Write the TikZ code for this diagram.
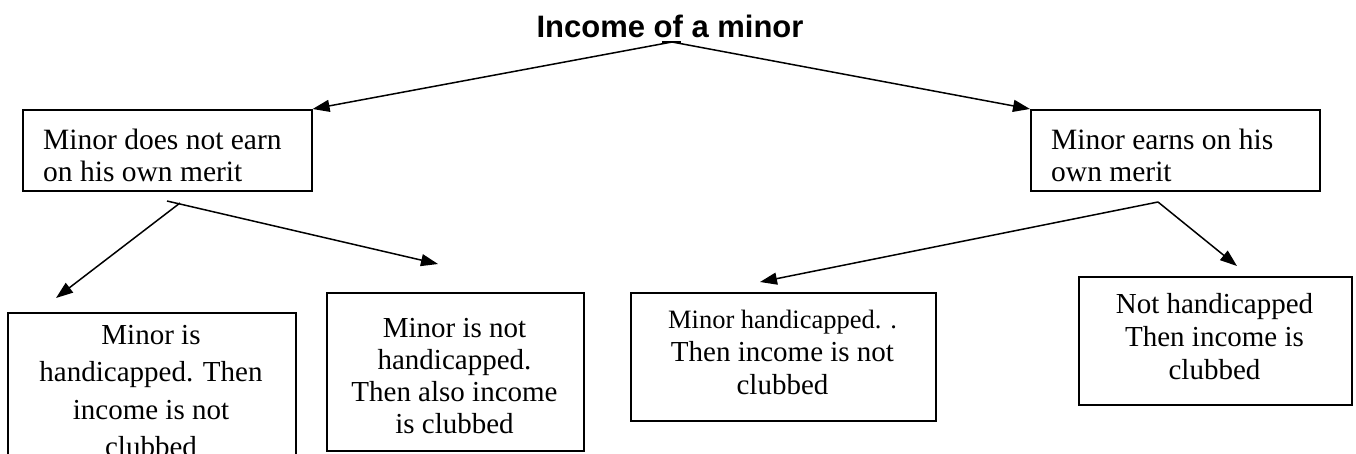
\documentclass[tikz,border=0pt]{standalone}
\usepackage{fontspec}
\usetikzlibrary{arrows.meta}
\newfontfamily\titlefont{Liberation Sans}
\newfontfamily\pal{Liberation Serif}
\tikzset{
  box/.style={draw, line width=1.6pt, inner sep=0pt, anchor=north west},
  txt/.style={inner sep=0pt, font={\pal\fontsize{29}{33}\selectfont}},
  arr/.style={line width=1.5pt, -{Triangle[length=17pt,width=12pt]}},
  ln/.style={line width=1.5pt}
}
\newcommand\fl{\rule{0pt}{22pt}}
\begin{document}
\begin{tikzpicture}[x=1pt,y=-1pt]
\clip (0,0) rectangle (1356,453);
\fill[white] (0,0) rectangle (1356,453);
% title
\node[anchor=base, inner sep=0pt, font={\titlefont\bfseries\fontsize{31}{36}\selectfont}] (title) at (670,37) {Income of a minor};
% boxes
\node[box, minimum width=289pt, minimum height=81pt] (b1) at (22,109) {};
\node[box, minimum width=289pt, minimum height=81pt] (b2) at (1030,109) {};
\node[box, minimum width=288pt, minimum height=170pt] (b3) at (7,312) {};
\node[box, minimum width=257pt, minimum height=158pt] (b4) at (326,292) {};
\node[box, minimum width=305pt, minimum height=128pt] (b5) at (630,292) {};
\node[box, minimum width=273pt, minimum height=128pt] (b6) at (1078,276) {};
% texts
\node[txt, anchor=north west, align=left, font={\pal\fontsize{29.5}{32}\selectfont}] (t1) at (43,127) {\fl Minor does not earn\\on his own merit};
\node[txt, anchor=north west, align=left, font={\pal\fontsize{29.5}{32}\selectfont}] (t2) at (1051,127) {\fl Minor earns on his\\own merit};
\node[txt, anchor=north, align=center, font={\pal\fontsize{29}{37.5}\selectfont}] (t3) at (151,322) {\fl Minor is\\handicapped. Then\\income is not\\clubbed};
\node[txt, anchor=north, align=center, font={\pal\fontsize{29}{32}\selectfont}] (t4) at (454.5,315) {\fl Minor is not\\handicapped.\\Then also income\\is clubbed};
\node[txt, anchor=north, align=center] (t5) at (782.5,306) {\fl{\fontsize{26.5}{32}\selectfont Minor handicapped. .}\\Then income is not\\clubbed};
\node[txt, anchor=north, align=center] (t6) at (1214.5,291) {\fl Not handicapped\\Then income is\\clubbed};
% connector points
\coordinate (apex) at (672,42);
\coordinate (apexl) at (662,42);
\coordinate (apexr) at (681,42);
\coordinate (j1) at (180,203);
\coordinate (j1s) at (167,201);
\coordinate (j2) at (1158,202);
\coordinate (tip3) at (56,298);
\coordinate (tip4) at (438,264);
\coordinate (tip5) at (760,282);
\coordinate (tip6) at (1237,266);
% connectors
\draw[ln] (apexl) -- (apexr);
\draw[arr] (apex) -- (b1.north east);
\draw[arr] (apex) -- (b2.north west);
\draw[arr] (j1) -- (tip3);
\draw[arr] (j1s) -- (tip4);
\draw[arr] (j2) -- (tip5);
\draw[arr] (j2) -- (tip6);
\end{tikzpicture}
\end{document}
